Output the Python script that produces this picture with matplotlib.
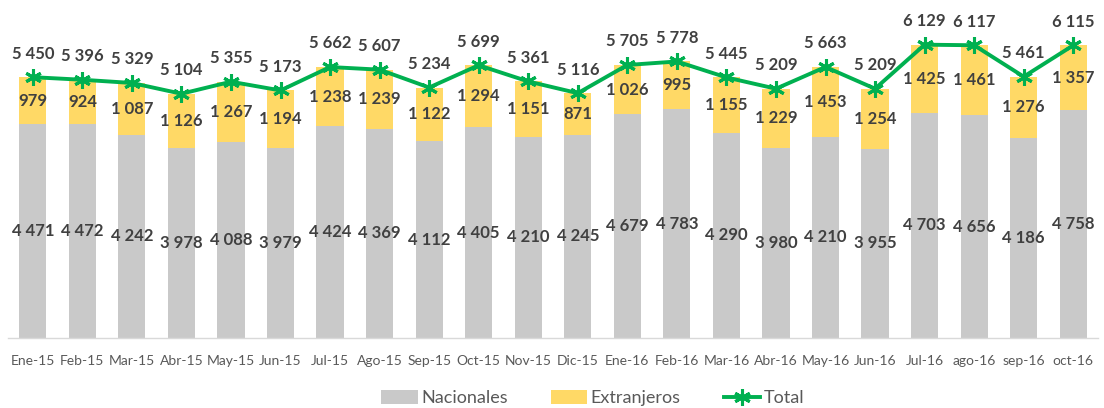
import matplotlib
matplotlib.use("Agg")
import matplotlib.pyplot as plt
import numpy as np

categories = ["Ene-15", "Feb-15", "Mar-15", "Abr-15", "May-15", "Jun-15", "Jul-15", "Ago-15",
              "Sep-15", "Oct-15", "Nov-15", "Dic-15", "Ene-16", "Feb-16", "Mar-16", "Abr-16",
              "May-16", "Jun-16", "Jul-16", "ago-16", "sep-16", "oct-16"]
nacionales = [4471, 4472, 4242, 3978, 4088, 3979, 4424, 4369, 4112, 4405, 4210, 4245,
              4679, 4783, 4290, 3980, 4210, 3955, 4703, 4656, 4186, 4758]
extranjeros = [979, 924, 1087, 1126, 1267, 1194, 1238, 1239, 1122, 1294, 1151, 871,
               1026, 995, 1155, 1229, 1453, 1254, 1425, 1461, 1276, 1357]
total = [5450, 5396, 5329, 5104, 5355, 5173, 5662, 5607, 5234, 5699, 5361, 5116,
         5705, 5778, 5445, 5209, 5663, 5209, 6129, 6117, 5461, 6115]

plt.rcParams['font.family'] = ['Lato', 'DejaVu Sans']

def fmt(v):
    return f"{v:,}".replace(",", " ")

fig = plt.figure(figsize=(11.04, 4.08), dpi=100)
ax = fig.add_axes([8/1104, 70/408, 1090/1104, 335/408])

x = np.arange(len(categories))
gray = "#C9C9C9"
yellow = "#FFD966"
green = "#00B050"
txt = "#404040"

b1 = ax.bar(x, nacionales, width=0.55, color=gray, label="Nacionales", zorder=2)
b2 = ax.bar(x, extranjeros, width=0.55, bottom=nacionales, color=yellow, label="Extranjeros", zorder=2)
ln, = ax.plot(x, total, color=green, lw=2.8, marker=(6, 2, 0), markersize=12,
              markeredgewidth=2.2, markeredgecolor=green, label="Total", zorder=3)

lab = dict(fontsize=12, color=txt, fontweight="bold", zorder=4)
for i in range(len(x)):
    ax.text(x[i], nacionales[i] / 2, fmt(nacionales[i]), ha="center", va="center", **lab)
    ax.text(x[i], nacionales[i] + extranjeros[i] / 2, fmt(extranjeros[i]), ha="center",
            va="center", **lab)
    ax.annotate(fmt(total[i]), (x[i], total[i]), xytext=(0, 17), textcoords="offset points",
                ha="center", va="center", **lab)

ax.set_xlim(-0.5, len(x) - 0.5)
ax.set_ylim(0, 7000)
ax.set_yticks([])
ax.set_xticks(x)
ax.set_xticklabels(categories, fontsize=10, color="#595959")
ax.tick_params(axis="x", length=0, pad=12)
for s in ["top", "right", "left"]:
    ax.spines[s].set_visible(False)
ax.spines["bottom"].set_color("#D9D9D9")
ax.spines["bottom"].set_linewidth(1)

leg = fig.legend(handles=[b1, b2, ln], loc="center", bbox_to_anchor=(593/1104, 1 - 398/408),
                 ncol=3, frameon=False, fontsize=13, handlelength=2.0, handleheight=0.8,
                 columnspacing=2.4, handletextpad=0.2)
for t in leg.get_texts():
    t.set_color("#595959")

fig.savefig("out.png", dpi=100)
